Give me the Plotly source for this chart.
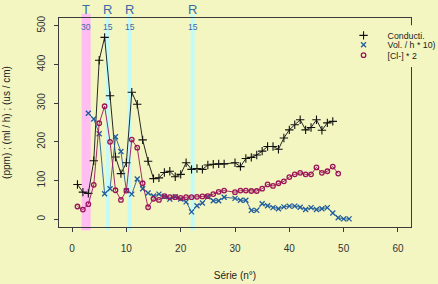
import plotly.graph_objects as go

# ---- data ----
cond_x = list(range(1, 29)) + list(range(30, 49))
cond_y = [90, 70, 67, 151, 411, 470, 319, 161, 118, 146, 328, 297, 205, 150, 105, 107,
          121, 124, 110, 116, 146, 129, 131, 129, 140, 142, 143, 143,
          146, 136, 157, 160, 166, 176, 188, 188, 181, 210, 231, 244, 257, 231, 237,
          257, 230, 249, 253]

vol_x = list(range(3, 29)) + list(range(30, 52))
vol_y = [274, 259, 221, 66, 79, 213, 175, 74, 65, 104, 79, 68, 60, 65, 59, 52, 58, 52,
         45, 19, 35, 42, 58, 48, 48, 57,
         54, 49, 49, 23, 23, 40, 35, 30, 27, 32, 34, 34, 31, 25, 30, 25, 27, 30, 16,
         4, 1, 1]

cl_x = list(range(1, 29)) + list(range(30, 50))
cl_y = [33, 25, 39, 89, 248, 292, 200, 75, 50, 74, 206, 185, 93, 31, 53, 50, 60, 57,
        57, 55, 57, 57, 58, 59, 60, 65, 71, 74,
        70, 74, 74, 73, 73, 79, 90, 86, 93, 98, 109, 116, 120, 116, 116, 134, 120,
        124, 136, 118]

series_names = ["Conducti.", "Vol. / h * 10)", "[Cl-] * 2"]

band_x = [2.6, 6.6, 10.6, 22.2]
band_top = ["T", "R", "R", "R"]
band_num = ["30", "15", "15", "15"]

x_ticks = [0, 10, 20, 30, 40, 50, 60]
y_ticks = [0, 100, 200, 300, 400, 500]

# ---- style ----
BG = "#f3f6c1"
C_COND = "#111111"
C_VOL = "#1f5c9c"
C_CL = "#9c1458"
C_T = "#ffbdf2"
C_R = "#c4fbf6"
C_LAB = "#3a6aa6"
C_AX = "#3a3a3a"

fig = go.Figure()

series = [
    (cond_x, cond_y, C_COND, "cross-thin", 6, 1.1),
    (vol_x, vol_y, C_VOL, "x-thin", 5, 1.3),
    (cl_x, cl_y, C_CL, "circle-open", 4.5, 1.3),
]
legend_ids = ["legend", "legend2", "legend3"]
legend_y = [0.917, 0.872, 0.822]

for (xs, ys, col, sym, sz, lw), name, lid in zip(series, series_names, legend_ids):
    fig.add_trace(go.Scatter(
        x=xs, y=ys, mode="lines+markers", name=name,
        line=dict(color=col, width=0.9),
        marker=dict(symbol=sym, size=sz, color=col, line=dict(color=col, width=lw)),
        showlegend=False,
    ))
    fig.add_trace(go.Scatter(
        x=[None], y=[None], mode="markers", name=name, legend=lid,
        marker=dict(symbol=sym, size=sz, color=col, line=dict(color=col, width=lw)),
        showlegend=True,
    ))

for bx, top, num in zip(band_x, band_top, band_num):
    is_t = top == "T"
    fig.add_shape(type="line", xref="x", yref="paper", x0=bx, x1=bx, y0=-0.015, y1=1.02,
                  line=dict(color=C_T if is_t else C_R, width=9 if is_t else 4),
                  layer="below")
    fig.add_annotation(x=bx, xref="x", y=1.042, yref="paper", text=top, showarrow=False,
                       font=dict(size=13, color=C_LAB), yanchor="middle")
    fig.add_annotation(x=bx, xref="x", y=0.958, yref="paper", text=num, showarrow=False,
                       font=dict(size=8.5, color=C_LAB), yanchor="middle")

# legend background patch (hides the frame behind the legend, as in the original)
fig.add_shape(type="rect", xref="paper", yref="paper", x0=0.83, x1=1.2, y0=0.765, y1=0.965,
              fillcolor=BG, line=dict(width=0), layer="above")

legend_style = dict(x=0.797, xanchor="left", yanchor="middle", bgcolor="rgba(0,0,0,0)",
                    font=dict(size=8.8, color="#222222"), itemwidth=38)

axis_font = dict(family="Liberation Sans, Arial, sans-serif", size=10, color="#333333")
fig.update_layout(
    width=438, height=284,
    margin=dict(l=59, r=27, t=18, b=57, autoexpand=False),
    paper_bgcolor=BG, plot_bgcolor=BG,
    font=axis_font,
    showlegend=True,
    legend=dict(y=legend_y[0], **legend_style),
    legend2=dict(y=legend_y[1], **legend_style),
    legend3=dict(y=legend_y[2], **legend_style),
    xaxis=dict(range=[-2.4, 62.4], tickvals=x_ticks, showgrid=False, zeroline=False,
               showline=True, mirror=True, linecolor=C_AX, linewidth=1, automargin=False,
               ticks="outside", ticklen=4, tickcolor=C_AX, ticklabelstandoff=8,
               title=dict(text="Série (n°)", standoff=18, font=dict(size=10, color="#222222"))),
    yaxis=dict(range=[-20, 520], tickvals=y_ticks, showgrid=False, zeroline=False,
               showline=True, mirror=True, linecolor=C_AX, linewidth=1, automargin=False,
               ticks="outside", ticklen=4, tickcolor=C_AX, tickangle=-90, ticklabelstandoff=5,
               title=dict(text="(ppm) ; (ml / h) ; (us / cm)", standoff=23,
                          font=dict(size=10, color="#222222"))),
)

fig.write_html("out.html", config={"displayModeBar": False},
               post_script="document.body.style.margin='0px';")
